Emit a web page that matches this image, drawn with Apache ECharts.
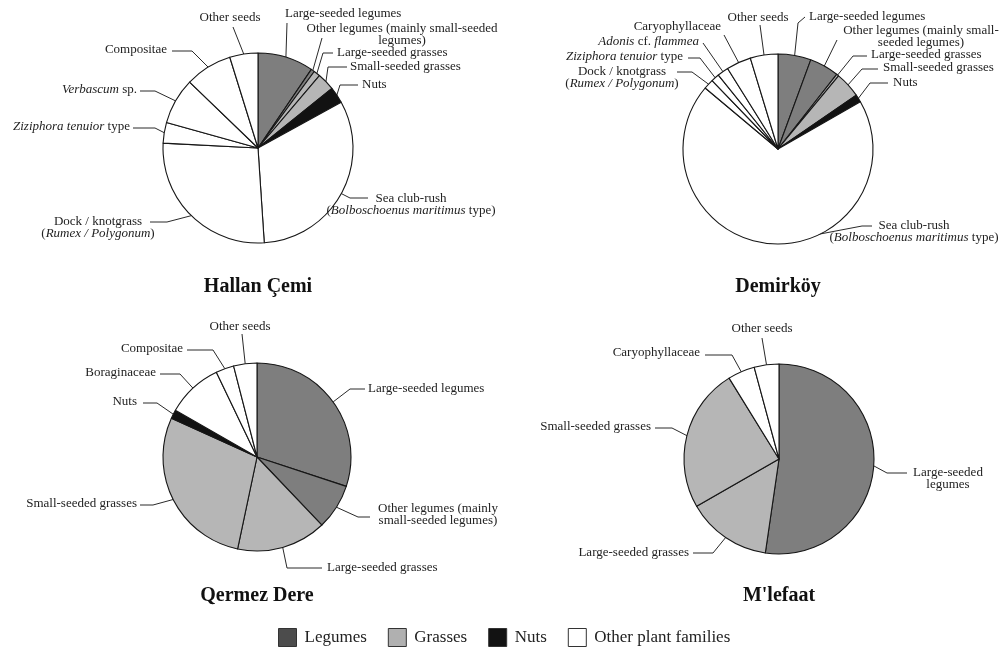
<!DOCTYPE html>
<html>
<head>
<meta charset="utf-8">
<script src="https://cdn.jsdelivr.net/npm/echarts@6/dist/echarts.min.js"></script>
<style>html,body{margin:0;padding:0;background:#fff}#c{width:1003px;height:653px}</style>
</head>
<body>
<div id="c"></div>
<script>
// ---------- DATA ----------
const SITES = ['Hallan Çemi', 'Demirköy', 'Qermez Dere', "M'lefaat"];

const HALLAN_NAMES = ['Large-seeded legumes', 'Other legumes', 'Large-seeded grasses', 'Small-seeded grasses', 'Nuts',
  'Sea club-rush', 'Dock / knotgrass', 'Ziziphora tenuior type', 'Verbascum sp.', 'Compositae', 'Other seeds'];
const HALLAN_VALUES = [9.5, 0.6, 1.1, 3.0, 2.8, 32.0, 26.9, 3.5, 7.9, 8.0, 4.8];

const DEMIRKOY_NAMES = ['Large-seeded legumes', 'Other legumes', 'Large-seeded grasses', 'Small-seeded grasses', 'Nuts',
  'Sea club-rush', 'Dock / knotgrass', 'Ziziphora tenuior type', 'Adonis cf. flammea', 'Caryophyllaceae', 'Other seeds'];
const DEMIRKOY_VALUES = [5.6, 5.0, 0.4, 4.4, 1.3, 69.4, 1.7, 1.4, 1.9, 4.2, 4.7];

const QERMEZ_NAMES = ['Large-seeded legumes', 'Other legumes', 'Large-seeded grasses', 'Small-seeded grasses', 'Nuts',
  'Boraginaceae', 'Compositae', 'Other seeds'];
const QERMEZ_VALUES = [30.0, 7.8, 15.4, 28.4, 1.5, 9.6, 3.1, 4.0];

const MLEFAAT_NAMES = ['Large-seeded legumes', 'Large-seeded grasses', 'Small-seeded grasses', 'Caryophyllaceae', 'Other seeds'];
const MLEFAAT_VALUES = [52.3, 14.4, 24.5, 4.6, 4.2];

const LEGEND_GROUPS = ['Legumes', 'Grasses', 'Nuts', 'Other plant families'];
const GROUP_OF = {
  'Large-seeded legumes': 'Legumes', 'Other legumes': 'Legumes',
  'Large-seeded grasses': 'Grasses', 'Small-seeded grasses': 'Grasses',
  'Nuts': 'Nuts'
};

// ---------- STYLE / LAYOUT ----------
const FONT = 'Liberation Serif';
const SLICE_COLORS = { 'Legumes': '#7e7e7e', 'Grasses': '#b6b6b6', 'Nuts': '#121212', 'Other plant families': '#ffffff' };
const LEGEND_COLORS = { 'Legumes': '#4c4c4c', 'Grasses': '#b0b0b0', 'Nuts': '#141414', 'Other plant families': '#ffffff' };

const PIE_GEOM = [
  { c: [258, 148], r: 95 },
  { c: [778, 149], r: 95 },
  { c: [257, 457], r: 94 },
  { c: [779, 459], r: 95 }
];
const TITLE_POS = [[258, 285], [778, 285], [257, 594], [779, 594]];

// label text (rich) and placement per site, in data order
const LABELS = [
  [
    { t: 'Large-seeded legumes', x: 285, y: 14, a: 'left', p: [[287, 23]] },
    { t: 'Other legumes (mainly small-seeded\nlegumes)', x: 402, y: 29, a: 'center', p: [[322, 38]] },
    { t: 'Large-seeded grasses', x: 337, y: 53, a: 'left', p: [[323, 53], [333, 53]] },
    { t: 'Small-seeded grasses', x: 350, y: 67, a: 'left', p: [[328, 67], [347, 67]] },
    { t: 'Nuts', x: 362, y: 85, a: 'left', p: [[340, 85], [358, 85]] },
    { t: 'Sea club-rush\n({i|Bolboschoenus maritimus} type)', x: 411, y: 199, a: 'center', p: [[350, 198], [368, 198]] },
    { t: 'Dock / knotgrass\n({i|Rumex / Polygonum})', x: 98, y: 222, a: 'center', p: [[167, 222], [150, 222]] },
    { t: '{i|Ziziphora tenuior} type', x: 130, y: 127, a: 'right', p: [[155, 128], [133, 128]] },
    { t: '{i|Verbascum} sp.', x: 137, y: 90, a: 'right', p: [[155, 91], [140, 91]] },
    { t: 'Compositae', x: 167, y: 50, a: 'right', p: [[192, 51], [172, 51]] },
    { t: 'Other seeds', x: 230, y: 18, a: 'center', p: [[233, 27]] }
  ],
  [
    { t: 'Large-seeded legumes', x: 809, y: 17, a: 'left', p: [[798, 23], [805, 17]] },
    { t: 'Other legumes (mainly small-\nseeded legumes)', x: 921, y: 31, a: 'center', p: [[837, 40]] },
    { t: 'Large-seeded grasses', x: 871, y: 55, a: 'left', p: [[853, 56], [867, 56]] },
    { t: 'Small-seeded grasses', x: 883, y: 68, a: 'left', p: [[862, 69], [878, 69]] },
    { t: 'Nuts', x: 893, y: 83, a: 'left', p: [[870, 83], [888, 83]] },
    { t: 'Sea club-rush\n({i|Bolboschoenus maritimus} type)', x: 914, y: 226, a: 'center', p: [[862, 226], [872, 226]] },
    { t: 'Dock / knotgrass\n({i|Rumex / Polygonum})', x: 622, y: 72, a: 'center', p: [[692, 72], [677, 72]] },
    { t: '{i|Ziziphora tenuior} type', x: 683, y: 57, a: 'right', p: [[700, 58], [688, 58]] },
    { t: '{i|Adonis} cf. {i|flammea}', x: 699, y: 42, a: 'right', p: [[703, 43]] },
    { t: 'Caryophyllaceae', x: 721, y: 27, a: 'right', p: [[724, 35]] },
    { t: 'Other seeds', x: 758, y: 18, a: 'center', p: [[760, 25]] }
  ],
  [
    { t: 'Large-seeded legumes', x: 368, y: 389, a: 'left', p: [[350, 389], [365, 389]] },
    { t: 'Other legumes (mainly\nsmall-seeded legumes)', x: 438, y: 509, a: 'center', p: [[358, 517], [370, 517]] },
    { t: 'Large-seeded grasses', x: 327, y: 568, a: 'left', p: [[287, 568], [322, 568]] },
    { t: 'Small-seeded grasses', x: 137, y: 504, a: 'right', p: [[153, 505], [140, 505]] },
    { t: 'Nuts', x: 137, y: 402, a: 'right', p: [[157, 403], [143, 403]] },
    { t: 'Boraginaceae', x: 156, y: 373, a: 'right', p: [[180, 374], [160, 374]] },
    { t: 'Compositae', x: 183, y: 349, a: 'right', p: [[213, 350], [187, 350]] },
    { t: 'Other seeds', x: 240, y: 327, a: 'center', p: [[242, 334]] }
  ],
  [
    { t: 'Large-seeded\nlegumes', x: 948, y: 473, a: 'center', p: [[887, 473], [907, 473]] },
    { t: 'Large-seeded grasses', x: 689, y: 553, a: 'right', p: [[713, 553], [693, 553]] },
    { t: 'Small-seeded grasses', x: 651, y: 427, a: 'right', p: [[672, 428], [655, 428]] },
    { t: 'Caryophyllaceae', x: 700, y: 353, a: 'right', p: [[732, 355], [705, 355]] },
    { t: 'Other seeds', x: 762, y: 329, a: 'center', p: [[762, 338]] }
  ]
];

const SITE_NAMES = [HALLAN_NAMES, DEMIRKOY_NAMES, QERMEZ_NAMES, MLEFAAT_NAMES];
const SITE_VALUES = [HALLAN_VALUES, DEMIRKOY_VALUES, QERMEZ_VALUES, MLEFAAT_VALUES];

// ---------- BUILD ----------
function edgePoint(si, di) {
  const vals = SITE_VALUES[si];
  const total = vals.reduce((a, b) => a + b, 0);
  let cum = 0;
  for (let k = 0; k < di; k++) cum += vals[k];
  const ang = (cum + vals[di] / 2) / total * Math.PI * 2;
  const g = PIE_GEOM[si];
  return [g.c[0] + g.r * Math.sin(ang), g.c[1] - g.r * Math.cos(ang)];
}

const LINE_H = 12;
const series = SITES.map((site, si) => ({
  type: 'pie',
  name: site,
  center: PIE_GEOM[si].c,
  radius: PIE_GEOM[si].r,
  startAngle: 90,
  clockwise: true,
  avoidLabelOverlap: false,
  silent: true,
  animation: false,
  itemStyle: { borderColor: '#161616', borderWidth: 1.1 },
  label: {
    show: true,
    position: 'outside',
    fontFamily: FONT,
    fontSize: 13,
    color: '#222',
    lineHeight: LINE_H,
    formatter: (p) => LABELS[si][p.dataIndex].t,
    rich: { i: { fontFamily: FONT, fontSize: 13, fontStyle: 'italic', color: '#222', lineHeight: LINE_H } }
  },
  labelLine: { show: true, lineStyle: { color: '#2a2a2a', width: 1 } },
  labelLayout: function (p) {
    const L = LABELS[si][p.dataIndex];
    return {
      x: L.x, y: L.y - LINE_H / 2, align: L.a, verticalAlign: 'top',
      labelLinePoints: [edgePoint(si, p.dataIndex)].concat(L.p)
    };
  },
  data: SITE_NAMES[si].map((n, di) => ({
    name: n,
    value: SITE_VALUES[si][di],
    itemStyle: { color: SLICE_COLORS[GROUP_OF[n] || 'Other plant families'] }
  }))
}));

// legend carrier (kept off-canvas)
series.push({
  type: 'pie',
  name: 'legend',
  center: [-300, -300],
  radius: 5,
  silent: true,
  animation: false,
  label: { show: false },
  labelLine: { show: false },
  itemStyle: { borderColor: '#333', borderWidth: 1 },
  data: LEGEND_GROUPS.map(g => ({ name: g, value: 1, itemStyle: { color: LEGEND_COLORS[g] } }))
});

const option = {
  backgroundColor: '#fff',
  animation: false,
  title: SITES.map((s, si) => ({
    text: s,
    left: TITLE_POS[si][0],
    top: TITLE_POS[si][1] - 8,
    textAlign: 'center',
    padding: 0,
    textStyle: { fontFamily: FONT, fontWeight: 'bold', fontSize: 20, color: '#111' }
  })),
  legend: {
    data: LEGEND_GROUPS,
    left: 273,
    top: 623,
    icon: 'rect',
    itemWidth: 18,
    itemHeight: 18,
    itemGap: 21,
    selectedMode: false,
    itemStyle: { borderColor: '#333', borderWidth: 1 },
    textStyle: { fontFamily: FONT, fontSize: 17, color: '#222', padding: [0, 0, 0, 3] }
  },
  series: series
};

const chart = echarts.init(document.getElementById('c'), null, { renderer: 'canvas' });
chart.setOption(option);
</script>
</body>
</html>
